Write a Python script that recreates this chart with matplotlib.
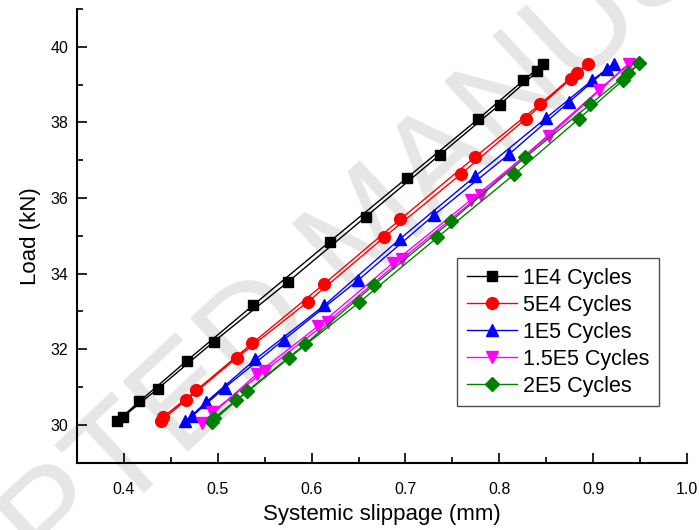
import matplotlib
matplotlib.use("Agg")
import matplotlib.pyplot as plt
from matplotlib.ticker import MultipleLocator, FormatStrFormatter

plt.rcParams["font.family"] = ["Liberation Sans", "DejaVu Sans"]

# Hysteresis loops: each series is the loading branch followed by the unloading branch
labels = ["1E4 Cycles", "5E4 Cycles", "1E5 Cycles", "1.5E5 Cycles", "2E5 Cycles"]

slip_1e4 = [0.3925, 0.4166, 0.4673, 0.5379, 0.6195, 0.7019, 0.7775, 0.8256, 0.8470,
            0.8406, 0.8003, 0.7364, 0.6580, 0.5753, 0.4958, 0.4359, 0.3995]
load_1e4 = [30.09, 30.62, 31.70, 33.17, 34.85, 36.54, 38.09, 39.11, 39.55,
            39.35, 38.47, 37.14, 35.51, 33.79, 32.20, 30.95, 30.22]

slip_5e4 = [0.4414, 0.4770, 0.5368, 0.6134, 0.6947, 0.7738, 0.8438, 0.8826, 0.8944,
            0.8759, 0.8279, 0.7589, 0.6776, 0.5963, 0.5201, 0.4666, 0.4398]
load_5e4 = [30.20, 30.91, 32.16, 33.73, 35.44, 37.08, 38.49, 39.32, 39.55,
            39.15, 38.09, 36.63, 34.97, 33.26, 31.77, 30.66, 30.11]

slip_1e5 = [0.4655, 0.4880, 0.5399, 0.6135, 0.6937, 0.7739, 0.8495, 0.8987, 0.9217,
            0.9147, 0.8738, 0.8108, 0.7308, 0.6492, 0.5703, 0.5073, 0.4727]
load_1e5 = [30.09, 30.61, 31.73, 33.16, 34.91, 36.57, 38.11, 39.11, 39.55,
            39.41, 38.53, 37.17, 35.56, 33.82, 32.25, 30.98, 30.23]

slip_15e5 = [0.4834, 0.5414, 0.6067, 0.6866, 0.7696, 0.8526, 0.9379,
             0.9058, 0.7803, 0.6965, 0.6174, 0.5501, 0.4941]
load_15e5 = [30.05, 31.34, 32.61, 34.28, 35.95, 37.63, 39.55,
             38.85, 36.09, 34.39, 32.73, 31.43, 30.34]

slip_2e5 = [0.4944, 0.5199, 0.5759, 0.6507, 0.7340, 0.8160, 0.8845, 0.9322, 0.9486,
            0.9372, 0.8969, 0.8278, 0.7482, 0.6662, 0.5929, 0.5314, 0.4965]
load_2e5 = [30.08, 30.65, 31.77, 33.24, 34.96, 36.63, 38.09, 39.13, 39.56,
            39.30, 38.48, 37.08, 35.38, 33.70, 32.13, 30.89, 30.19]

series = [
    (slip_1e4, load_1e4, "#000000", "s", 7.5),
    (slip_5e4, load_5e4, "#ff0000", "o", 8.5),
    (slip_1e5, load_1e5, "#0000ff", "^", 9.0),
    (slip_15e5, load_15e5, "#ff00ff", "v", 9.0),
    (slip_2e5, load_2e5, "#008000", "D", 7.5),
]

fig = plt.figure(figsize=(6.99, 5.30), dpi=100)
ax = fig.add_axes([0.110, 0.127, 0.873, 0.856])

# faint diagonal stamp, kept underneath the curves
ax.text(0.53, 0.56, "ACCEPTED MANUSCRIPT", transform=fig.transFigure,
        fontsize=100, color="#e6e6e6", rotation=43, ha="center", va="center",
        zorder=0, clip_on=False)

for (x, y, color, marker, ms), label in zip(series, labels):
    ax.plot(x, y, color=color, marker=marker, markersize=ms, linewidth=1.0,
            markeredgecolor=color, markerfacecolor=color, label=label, zorder=3)

ax.set_xlim(0.35, 1.0)
ax.set_ylim(29, 41)
ax.xaxis.set_major_locator(MultipleLocator(0.1))
ax.xaxis.set_minor_locator(MultipleLocator(0.05))
ax.yaxis.set_major_locator(MultipleLocator(2))
ax.yaxis.set_minor_locator(MultipleLocator(1))
ax.xaxis.set_major_formatter(FormatStrFormatter("%.1f"))

for side in ("top", "right"):
    ax.spines[side].set_visible(False)
for side in ("left", "bottom"):
    ax.spines[side].set_linewidth(1.5)
    ax.spines[side].set_zorder(4)

ax.tick_params(which="both", direction="in", width=1.2, labelsize=11.5)
ax.tick_params(which="major", length=7)
ax.tick_params(which="minor", length=4)
ax.tick_params(axis="x", which="major", pad=14)
ax.tick_params(axis="y", which="major", pad=6)

ax.set_xlabel("Systemic slippage (mm)", fontsize=16, labelpad=5)
ax.set_ylabel("Load (kN)", fontsize=16, labelpad=7)

leg = ax.legend(loc="upper right", bbox_to_anchor=(0.954, 0.4515), borderaxespad=0,
                fontsize=15.5, frameon=True, fancybox=False, handlelength=2.3,
                handletextpad=0.3, labelspacing=0.28, borderpad=0.45)
leg.get_frame().set_edgecolor("#202020")
leg.get_frame().set_linewidth(1.0)
leg.set_zorder(5)

fig.savefig("out.png", dpi=100)
